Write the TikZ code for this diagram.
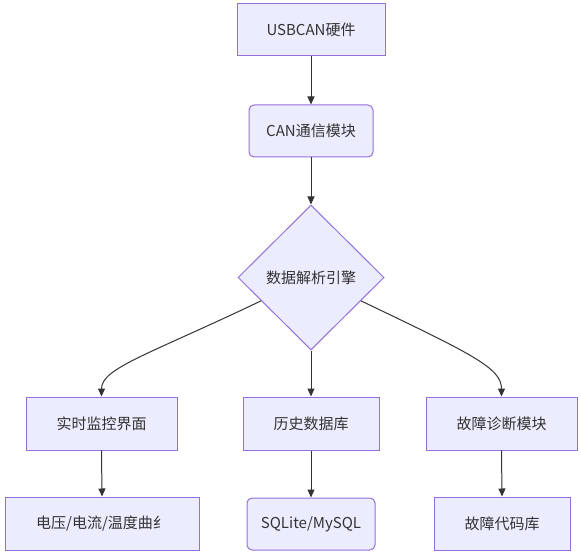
\documentclass[tikz,border=0pt]{standalone}
\usepackage{fontspec}
\setmainfont{Noto Sans CJK SC}
\usetikzlibrary{shapes.geometric,arrows.meta,calc}
\definecolor{nodefill}{HTML}{ECECFF}
\definecolor{nodeborder}{HTML}{9370DB}
\definecolor{edgecol}{HTML}{333333}
\definecolor{textcol}{HTML}{333333}
\tikzset{
  base/.style={draw=nodeborder, fill=nodefill, line width=1pt, text=textcol,
    font=\fontsize{15pt}{18pt}\selectfont, inner sep=0pt, align=center},
  sq/.style={base, rectangle},
  rd/.style={base, rectangle, rounded corners=5pt},
  dm/.style={base, diamond},
  edge/.style={draw=edgecol, line width=1pt, -{Triangle[length=8pt,width=7pt]}}
}
\begin{document}
\begin{tikzpicture}[x=1pt,y=-1pt]
\useasboundingbox (0,0) rectangle (581,556);
\node[sq, minimum width=148pt, minimum height=52pt] (usb) at (311,30) {USBCAN硬件};
\node[rd, minimum width=124pt, minimum height=52pt] (can) at (311,131) {CAN通信模块};
\node[dm, minimum width=146pt, minimum height=145pt] (eng) at (311,277.5) {数据解析引擎};
\node[sq, minimum width=151pt, minimum height=53pt] (mon) at (101.5,423.5) {实时监控界面};
\node[sq, minimum width=136pt, minimum height=53pt] (his) at (311,423.5) {历史数据库};
\node[sq, minimum width=151pt, minimum height=53pt] (dia) at (501.5,423.5) {故障诊断模块};
\node[sq, minimum width=194pt, minimum height=53pt] (cur) at (102,523.5) {电压/电流/温度曲纟};
\node[rd, minimum width=128pt, minimum height=52pt] (sql) at (311,524) {SQLite/MySQL};
\node[sq, minimum width=136pt, minimum height=53pt] (code) at (502,523.5) {故障代码库};
\coordinate (el) at ($(eng.west)!0.32!(eng.south)$);
\coordinate (er) at ($(eng.east)!0.32!(eng.south)$);
\draw[edge] (usb.south) -- (can.north);
\draw[edge] (can.south) -- (eng.north);
\draw[edge] (el) .. controls (150,354) and (101.5,368) .. (mon.north);
\draw[edge] (eng.south) -- (his.north);
\draw[edge] (er) .. controls (472,354) and (501.5,368) .. (dia.north);
\draw[edge] (mon.south) -- (cur.north);
\draw[edge] (his.south) -- (sql.north);
\draw[edge] (dia.south) -- (code.north);
\end{tikzpicture}
\end{document}
